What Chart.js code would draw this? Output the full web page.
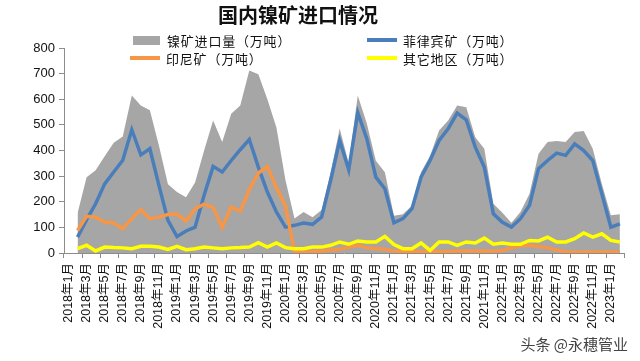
<!DOCTYPE html>
<html>
<head>
<meta charset="utf-8">
<script src="https://cdn.jsdelivr.net/npm/chart.js@4"></script>
<style>
  body { margin: 0; background: #fff; }
  #wrap { position: relative; width: 640px; height: 361px; font-family: 'Liberation Sans', 'Noto Sans CJK SC', sans-serif; }
  #title { position: absolute; left: 0; top: 3px; width: 596px; text-align: center; font: bold 20px 'Noto Sans CJK SC', sans-serif; line-height: 24px; color: #111; }
  #legend { position: absolute; left: 130px; top: 31px; display: grid; grid-template-columns: 237px 237px; }
  .item { display: flex; align-items: center; height: 18px; font-size: 13px; letter-spacing: 0.8px; color: #111; font-family: 'Noto Sans CJK SC', sans-serif; white-space: nowrap; }
  .mark { width: 30px; margin-right: 6px; flex: none; }
  #mark { position: absolute; right: 12px; top: 333px; font: 15px 'Noto Sans CJK SC', sans-serif; color: #444; }
</style>
</head>
<body>
<div id="wrap">
  <canvas id="chart"></canvas>
  <div id="title">国内镍矿进口情况</div>
  <div id="legend"></div>
  <div id="mark">头条 @永穗管业</div>
</div>
<script>
'use strict';
const months = [
  '2018年1月', '2018年2月', '2018年3月', '2018年4月', '2018年5月', '2018年6月', '2018年7月', '2018年8月', '2018年9月', '2018年10月', '2018年11月', '2018年12月',
  '2019年1月', '2019年2月', '2019年3月', '2019年4月', '2019年5月', '2019年6月', '2019年7月', '2019年8月', '2019年9月', '2019年10月', '2019年11月', '2019年12月',
  '2020年1月', '2020年2月', '2020年3月', '2020年4月', '2020年5月', '2020年6月', '2020年7月', '2020年8月', '2020年9月', '2020年10月', '2020年11月', '2020年12月',
  '2021年1月', '2021年2月', '2021年3月', '2021年4月', '2021年5月', '2021年6月', '2021年7月', '2021年8月', '2021年9月', '2021年10月', '2021年11月', '2021年12月',
  '2022年1月', '2022年2月', '2022年3月', '2022年4月', '2022年5月', '2022年6月', '2022年7月', '2022年8月', '2022年9月', '2022年10月', '2022年11月', '2022年12月',
  '2023年1月', '2023年2月',
];
// 万吨
const totalImports = [null, 155, 296, 323, 378, 430, 455, 615, 576, 557, 420, 268,
  238, 218, 275, 400, 517, 433, 543, 576, 712, 698, 600, 490,
  285, 135, 160, 140, 168, 315, 486, 350, 615, 505, 360, 315,
  145, 151, 185, 315, 380, 478, 517, 576, 569, 452, 407, 192,
  157, 118, 160, 231, 387, 433, 437, 433, 472, 476, 407, 270,
  147, 151];
const philippines = [null, 62, 130, 192, 270, 316, 362, 481, 383, 407, 264, 127,
  64, 86, 101, 225, 338, 316, 361, 403, 443, 335, 238, 160,
  101, 108, 117, 112, 140, 283, 439, 325, 548, 446, 296, 251,
  118, 134, 173, 296, 361, 439, 485, 546, 520, 413, 335, 153,
  120, 101, 134, 186, 329, 361, 390, 381, 426, 400, 361, 231,
  101, 114];
const indonesia = [null, 88, 143, 140, 121, 117, 95, 134, 170, 134, 140, 150,
  152, 125, 172, 191, 178, 100, 180, 163, 248, 312, 338, 255,
  185, 5, 3, 5, 8, 12, 15, 22, 30, 20, 18, 15,
  8, 6, 6, 6, 6, 6, 6, 8, 8, 8, 8, 8,
  10, 20, 28, 30, 25, 20, 12, 5, 4, 4, 4, 4,
  4, 4];
const others = [null, 17, 30, 8, 23, 21, 20, 17, 26, 26, 23, 14,
  26, 13, 17, 23, 20, 17, 20, 21, 23, 40, 23, 39,
  21, 17, 17, 23, 23, 30, 43, 34, 47, 43, 43, 65,
  33, 17, 17, 39, 10, 43, 43, 30, 43, 39, 58, 34,
  39, 34, 34, 49, 47, 62, 43, 43, 56, 78, 62, 75,
  49, 43];

const axisColor = '#8c8c8c';
const lineSet = (label, data, color, order) => ({
  label, data, order,
  borderColor: color,
  borderWidth: 3.5,
  pointRadius: 0,
  tension: 0,
  fill: false,
});

const ctx = document.getElementById('chart');
const chart = new Chart(ctx, {
  type: 'line',
  data: {
    labels: months,
    datasets: [
      {
        label: '镍矿进口量（万吨）',
        data: totalImports,
        order: 4,
        backgroundColor: '#a6a6a6',
        borderWidth: 0,
        pointRadius: 0,
        fill: 'origin',
      },
      lineSet('菲律宾矿（万吨）', philippines, '#4a7ebb', 3),
      lineSet('印尼矿（万吨）', indonesia, '#f79646', 2),
      lineSet('其它地区（万吨）', others, '#ffff00', 1),
    ],
  },
  options: {
    responsive: true,
    maintainAspectRatio: false,
    animation: false,
    layout: {padding: {top: 48, right: 13, left: 0, bottom: 0}},
    scales: {
      x: {
        offset: true,
        afterFit: (s) => { s.height = 108; },
        grid: {
          offset: true,
          drawOnChartArea: false,
          tickLength: 5,
          tickColor: (c) => (c.index % 2 ? 'rgba(0,0,0,0)' : axisColor),
        },
        border: {color: axisColor},
        ticks: {
          autoSkip: false,
          minRotation: 90,
          maxRotation: 90,
          padding: 5,
          color: '#111',
          font: {size: 12.5, family: "'Liberation Sans', 'Noto Sans CJK SC', sans-serif"},
          callback: function (v, i) { return i % 2 ? '' : this.getLabelForValue(v); },
        },
      },
      y: {
        min: 0,
        max: 800,
        afterFit: (s) => { s.width = 64; },
        grid: {drawOnChartArea: false, tickLength: 5, tickColor: axisColor},
        border: {color: axisColor},
        ticks: {
          stepSize: 100,
          padding: 4,
          color: '#111',
          font: {size: 13, family: "'Liberation Sans', sans-serif"},
        },
      },
    },
    plugins: {
      legend: {display: false},
      title: {display: false},
      tooltip: {enabled: false},
    },
  },
});

// legend in two columns, built from the datasets
const legendBox = document.getElementById('legend');
chart.data.datasets.forEach((ds) => {
  const item = document.createElement('div');
  item.className = 'item';
  const mark = document.createElement('span');
  mark.className = 'mark';
  if (ds.fill === 'origin') {
    mark.style.height = '9px';
    mark.style.width = '27px';
    mark.style.marginLeft = '3px';
    mark.style.marginRight = '7px';
    mark.style.background = ds.backgroundColor;
  } else {
    mark.style.height = '4px';
    mark.style.background = ds.borderColor;
  }
  item.appendChild(mark);
  item.appendChild(document.createTextNode(ds.label));
  legendBox.appendChild(item);
});
</script>
</body>
</html>
